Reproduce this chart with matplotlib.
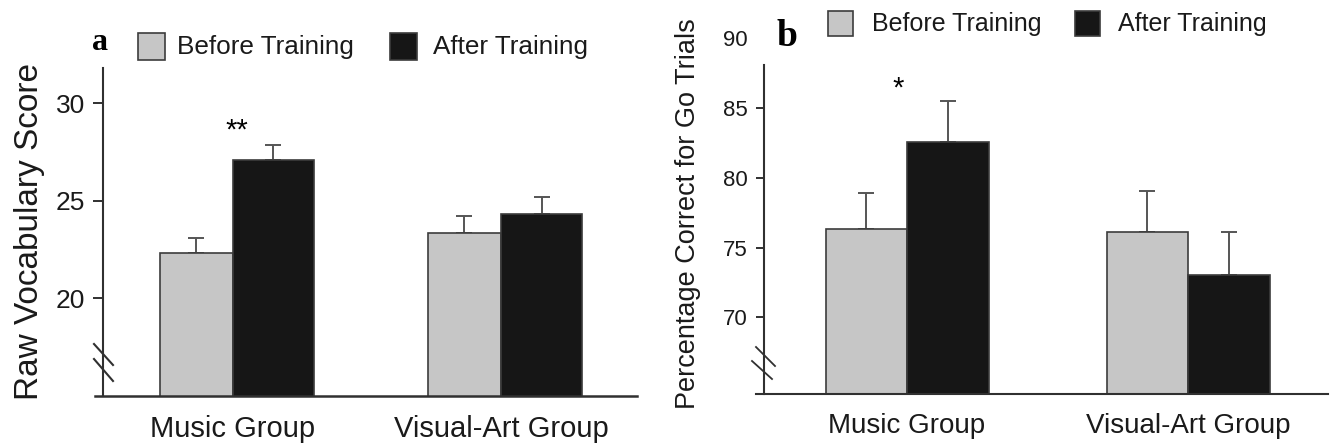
import matplotlib
matplotlib.use("Agg")
import matplotlib.pyplot as plt
from matplotlib.lines import Line2D
from matplotlib.patches import Rectangle
import numpy as np

# ---------------- data ----------------
groups = ["Music Group", "Visual-Art Group"]
series = ["Before Training", "After Training"]

vocab_before = [22.3, 23.35]
vocab_after = [27.1, 24.3]
vocab_before_err = [0.8, 0.85]
vocab_after_err = [0.75, 0.9]
vocab_ticks = [20, 25, 30]

go_before = [76.3, 76.15]
go_after = [82.6, 73.05]
go_before_err = [2.65, 2.9]
go_after_err = [2.9, 3.1]
go_ticks = [70, 75, 80, 85, 90]

# ---------------- style ----------------
W, H = 1330, 448
DPI = 100
GREY = "#c6c6c6"
BLACK = "#161616"
EDGE = "#3c3c3c"
AXC = "#303030"
SANS = ["Liberation Sans", "DejaVu Sans"]
SERIF = ["Liberation Serif", "DejaVu Serif"]

fig = plt.figure(figsize=(W / DPI, H / DPI), dpi=DPI)


def fx(px):
    return px / W


def fy(py):
    return 1 - py / H


def add_axes_px(left, right, top, bottom):
    return fig.add_axes([fx(left), fy(bottom), (right - left) / W, (bottom - top) / H])


def fig_line(x0, y0, x1, y1, lw=1.5, color=AXC):
    fig.add_artist(Line2D([fx(x0), fx(x1)], [fy(y0), fy(y1)], transform=fig.transFigure,
                          color=color, lw=lw))


def legend_px(items, y_center, size, fontsize):
    for (x_sq, x_txt, color, label) in items:
        fig.add_artist(Rectangle((fx(x_sq), fy(y_center + size / 2)), size / W, size / H,
                                 transform=fig.transFigure, facecolor=color,
                                 edgecolor=EDGE, lw=1.2))
        fig.text(fx(x_txt), fy(y_center), label, ha="left", va="center",
                 fontsize=fontsize, family=SANS, color="#1a1a1a")


def draw_panel(ax, before, after, berr, aerr, wb, wa, ylim, ticks, tick_fs, xlab_fs, ticklen):
    x = np.arange(len(groups))
    ax.bar(x - wb / 2, before, width=wb, color=GREY, edgecolor=EDGE, lw=1.2, zorder=2)
    ax.bar(x + wa / 2, after, width=wa, color=BLACK, edgecolor=EDGE, lw=1.2, zorder=2)
    ax.errorbar(x - wb / 2, before, yerr=[np.zeros(len(before)), berr], fmt="none",
                ecolor="#555555", elinewidth=1.4, capsize=5.5, capthick=1.4, zorder=1)
    ax.errorbar(x + wa / 2, after, yerr=[np.zeros(len(after)), aerr], fmt="none",
                ecolor="#555555", elinewidth=1.4, capsize=5.5, capthick=1.4, zorder=1)
    ax.set_ylim(*ylim)
    ax.set_yticks(ticks)
    ax.set_yticklabels([str(t) for t in ticks], fontsize=tick_fs, family=SANS, color="#1a1a1a")
    ax.set_xticks(x)
    ax.set_xticklabels(groups, fontsize=xlab_fs, family=SANS, color="#1a1a1a")
    ax.tick_params(axis="x", length=0, pad=14)
    ax.tick_params(axis="y", length=ticklen, width=1.4, color=AXC, pad=6)
    for s in ["top", "right", "bottom"]:
        ax.spines[s].set_visible(False)
    ax.spines["left"].set_color(AXC)
    ax.spines["left"].set_linewidth(1.5)
    ax.set_facecolor("none")
    return x


# ---------------- panel a ----------------
axA = add_axes_px(103, 637, 68, 395.5)
axA.set_xlim(-0.485, 1.507)
xa = draw_panel(axA, vocab_before, vocab_after, vocab_before_err, vocab_after_err,
                0.274, 0.302, (15, 31.8), vocab_ticks, 19, 21, 7)
axA.plot([-0.015, 1], [0, 0], transform=axA.transAxes, clip_on=False, color=AXC, lw=1.8)
axA.text(xa[0] + 0.015, 28.6, "**", ha="center", va="center", fontsize=21, family=SANS)
fig.text(fx(30), fy(231), "Raw Vocabulary Score", rotation=90, ha="center", va="center",
         fontsize=24, family=SANS, color="#1a1a1a")
fig_line(94, 344, 113, 365)
fig_line(94, 359, 113, 381)
fig.text(fx(100), fy(43), "a", ha="center", va="center", fontsize=23, family=SERIF,
         weight="bold")
legend_px([(138, 177, GREY, series[0]), (390, 433, BLACK, series[1])], 47, 27, 18.8)

# ---------------- panel b ----------------
axB = add_axes_px(764, 1328, 38.5, 394)
axB.set_xlim(-0.509, 1.498)
xb = draw_panel(axB, go_before, go_after, go_before_err, go_after_err,
                0.29, 0.29, (64.5, 90), go_ticks, 16, 20, 5.5)
axB.spines["left"].set_bounds(64.5, 88.1)
axB.yaxis.get_major_ticks()[-1].tick1line.set_visible(False)
axB.plot([-0.015, 1], [0, 0], transform=axB.transAxes, clip_on=False, color=AXC, lw=1.5)
axB.text(xb[0] - 0.03, 86.4, "*", ha="center", va="center", fontsize=21, family=SANS)
fig.text(fx(688), fy(214), "Percentage Correct for Go Trials", rotation=90, ha="center",
         va="center", fontsize=19.5, family=SANS, color="#1a1a1a")
fig_line(756, 347, 775, 366, lw=1.3)
fig_line(752, 361, 772, 379, lw=1.3)
fig.text(fx(787), fy(37), "b", ha="center", va="center", fontsize=27, family=SERIF,
         weight="bold")
legend_px([(828, 872, GREY, series[0]), (1075, 1118, BLACK, series[1])], 24, 25, 18)

fig.savefig("out.png", dpi=DPI)
